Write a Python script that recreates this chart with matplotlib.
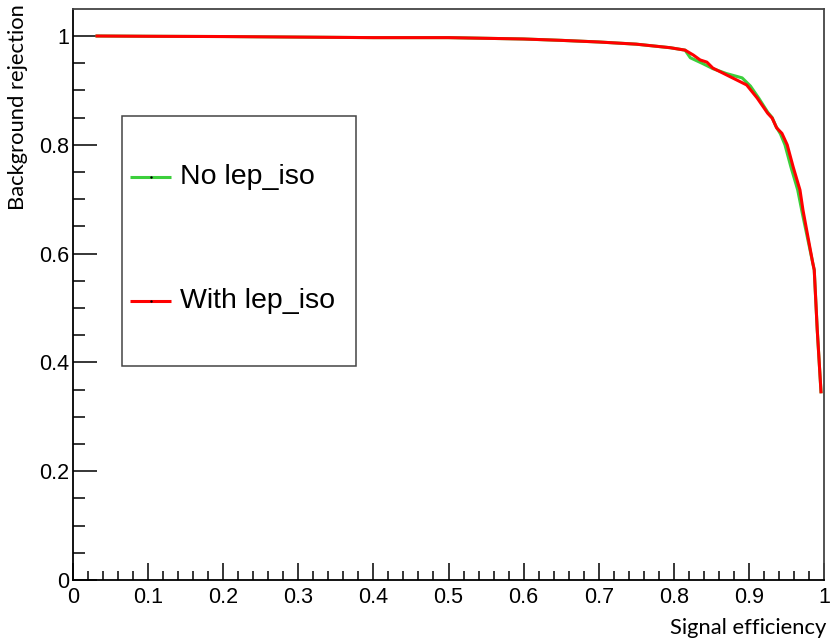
import matplotlib
matplotlib.use("Agg")
import matplotlib.pyplot as plt
from matplotlib.patches import Rectangle
from matplotlib.ticker import MultipleLocator

# signal efficiency / background rejection
eff_no_iso = [0.032, 0.1, 0.2, 0.3, 0.4, 0.5, 0.6, 0.65, 0.7, 0.75, 0.795, 0.815,
              0.822, 0.839, 0.852, 0.870, 0.891, 0.902, 0.913, 0.925, 0.931, 0.936,
              0.942, 0.948, 0.956, 0.965, 0.971, 0.985, 0.987, 0.991, 0.996]
rej_no_iso = [1.0, 0.9995, 0.999, 0.998, 0.997, 0.997, 0.9945, 0.992, 0.989, 0.985, 0.9785, 0.974,
              0.960, 0.949, 0.940, 0.931, 0.923, 0.908, 0.886, 0.860, 0.850, 0.834,
              0.820, 0.800, 0.759, 0.717, 0.675, 0.583, 0.570, 0.460, 0.346]

eff_iso = [0.032, 0.1, 0.2, 0.3, 0.4, 0.5, 0.6, 0.65, 0.7, 0.75, 0.795, 0.815,
           0.826, 0.835, 0.844, 0.852, 0.868, 0.884, 0.897, 0.911, 0.925, 0.931,
           0.937, 0.944, 0.951, 0.959, 0.968, 0.972, 0.985, 0.987, 0.991, 0.996]
rej_iso = [1.0, 0.9995, 0.999, 0.998, 0.997, 0.997, 0.9945, 0.992, 0.989, 0.985, 0.9785, 0.974,
           0.965, 0.956, 0.952, 0.941, 0.930, 0.919, 0.910, 0.886, 0.858, 0.849,
           0.831, 0.821, 0.800, 0.759, 0.717, 0.680, 0.583, 0.570, 0.460, 0.346]

labels = ["No lep_iso", "With lep_iso"]
colors = ["#3ccf3c", "#ff0000"]

fig = plt.figure(figsize=(8.3, 6.41), dpi=100)
ax = fig.add_axes([73 / 830, 1 - 580 / 641, 751 / 830, 571 / 641])

ax.plot(eff_no_iso, rej_no_iso, color=colors[0], lw=2.2, solid_joinstyle="round")
ax.plot(eff_iso, rej_iso, color=colors[1], lw=2.2, solid_joinstyle="round")

ax.set_xlim(0, 1)
ax.set_ylim(0, 1 + 27 / 544)

ax.xaxis.set_minor_locator(MultipleLocator(0.02))
ax.yaxis.set_minor_locator(MultipleLocator(0.05))
xt = [i / 10 for i in range(11)]
yt = [i / 5 for i in range(6)]
ax.set_xticks(xt)
ax.set_xticklabels(["0" if v == 0 else ("1" if v == 1 else f"{v:.1f}") for v in xt])
ax.set_yticks(yt)
ax.set_yticklabels(["0" if v == 0 else ("1" if v == 1 else f"{v:.1f}") for v in yt])

# tick lengths are in points (px * 0.72 at 100 dpi)
ax.tick_params(axis="both", which="both", direction="in", top=False, right=False,
               width=1.1, color="black", labelsize=15.5)
ax.tick_params(axis="x", which="major", length=12.2, pad=5)
ax.tick_params(axis="x", which="minor", length=6.5)
ax.tick_params(axis="y", which="major", length=17.3, pad=3)
ax.tick_params(axis="y", which="minor", length=8.6)
for lab in ax.get_xticklabels() + ax.get_yticklabels():
    lab.set_family("Liberation Sans")

for side in ["left", "bottom"]:
    ax.spines[side].set_linewidth(1.3)
    ax.spines[side].set_color("black")
for side in ["top", "right"]:
    ax.spines[side].set_linewidth(1.3)
    ax.spines[side].set_color("#444444")

# legend box, ROOT style
ax.add_patch(Rectangle((0.065, 0.375), 0.312, 0.4376, transform=ax.transAxes,
                       fill=False, ec="#444444", lw=1.1, zorder=5))
for i, (lab, col) in enumerate(zip(labels, colors)):
    yy = 0.7053 - i * 0.2172
    ax.plot([0.0765, 0.1305], [yy, yy], transform=ax.transAxes, color=col, lw=2.2,
            solid_capstyle="butt", zorder=6)
    ax.plot([0.1035], [yy], transform=ax.transAxes, marker=".", ms=1.5, color="black", zorder=7)
    ax.text(0.142, yy, lab, transform=ax.transAxes, fontsize=20.5,
            family="Liberation Sans", va="center", ha="left", zorder=6)

fig.text(826 / 830, 1 - 628 / 641, "Signal efficiency", ha="right", va="center",
         fontsize=15.8, family="Lato")
fig.text(18 / 830, 1 - 4 / 641, "Background rejection", ha="center", va="top",
         rotation=90, fontsize=15.8, family="Lato")

fig.savefig("out.png", dpi=100)
